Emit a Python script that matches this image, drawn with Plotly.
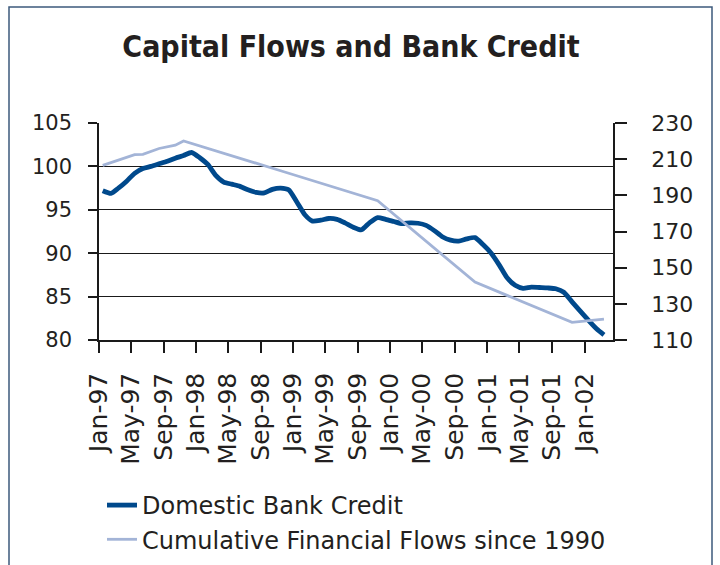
import pandas as pd
import plotly.graph_objects as go

# Monthly observations, Jan-1997 .. Mar-2002
months = pd.period_range("1997-01", "2002-03", freq="M")
bank_credit = [
    97.2, 96.9, 97.5, 98.3, 99.2, 99.75, 100.0, 100.3, 100.6, 100.95, 101.25, 101.6,
    101.0, 100.2, 99.0, 98.2, 97.95, 97.7, 97.3, 97.0, 96.95, 97.35, 97.5, 97.3,
    95.9, 94.4, 93.7, 93.8, 94.0, 93.9, 93.5, 93.0, 92.7, 93.5, 94.1, 93.9,
    93.65, 93.4, 93.5, 93.45, 93.2, 92.6, 91.9, 91.5, 91.4, 91.65, 91.8, 91.0,
    90.0, 88.6, 87.2, 86.3, 85.95, 86.1, 86.05, 86.0, 85.9, 85.5, 84.4, 83.35,
    82.3, 81.3, 80.6,
]

# Cumulative financial flows (right axis), observed months
flow_months = ["1997-01", "1997-05", "1997-06", "1997-08", "1997-10", "1997-11",
               "1998-11", "1999-11", "2000-11", "2001-11", "2002-03"]
flow_values = [206.6, 212.5, 212.7, 215.9, 217.7, 220.1,
               203.6, 187.0, 142.0, 119.8, 121.6]

# place each monthly value in the middle of its month slot
credit_x = months.to_timestamp() + pd.Timedelta(days=14)
flow_x = pd.PeriodIndex(flow_months, freq="M").to_timestamp() + pd.Timedelta(days=14)

DARK = "#00498c"
LIGHT = "#a3b4d7"
TEXT = "#231f20"
AXIS = "#1a1a1a"

fig = go.Figure()
fig.add_trace(go.Scatter(
    x=credit_x, y=bank_credit, name="Domestic Bank Credit",
    mode="lines", line=dict(color=DARK, width=4.8, shape="spline", smoothing=0.6),
    yaxis="y",
))
fig.add_trace(go.Scatter(
    x=flow_x, y=flow_values, name="Cumulative Financial Flows since 1990",
    mode="lines", line=dict(color=LIGHT, width=2.8),
    yaxis="y2",
))

L, R, T, B = 99, 107, 123, 225
W, H = 720, 565
pw, ph = W - L - R, H - T - B

def px_x(px):
    return (px - L) / pw

def px_y(py):
    return (H - B - py) / ph

fig.update_layout(
    width=W, height=H,
    margin=dict(l=L, r=R, t=T, b=B, autoexpand=False),
    paper_bgcolor="white", plot_bgcolor="white",
    title=dict(
        text="Capital Flows and Bank Credit",
        font=dict(family="DejaVu Sans Condensed", size=30, color=TEXT, weight="bold"),
        x=px_x(351), xanchor="center", xref="paper",
        y=1 - 46 / H, yanchor="middle", yref="container",
    ),
    xaxis=dict(
        type="date",
        range=["1997-01-01", "2002-04-18"],
        tick0="1997-01-01", dtick="M4", tickformat="%b-%y",
        tickangle=-90,
        ticks="outside", ticklen=11, tickwidth=1.5, tickcolor=AXIS,
        ticklabelstandoff=10,
        showline=True, linecolor=AXIS, linewidth=1.5,
        showgrid=False, zeroline=False,
        tickfont=dict(family="DejaVu Sans", size=25, color=TEXT),
    ),
    yaxis=dict(
        range=[80, 105], dtick=5, tick0=80,
        ticks="outside", ticklen=9, tickwidth=1.5, tickcolor=AXIS,
        ticklabelstandoff=12,
        showline=True, linecolor=AXIS, linewidth=1.5,
        showgrid=True, gridcolor=AXIS, gridwidth=1.4,
        zeroline=False,
        tickfont=dict(family="DejaVu Sans", size=21, color=TEXT),
    ),
    yaxis2=dict(
        range=[110, 230], dtick=20, tick0=110,
        overlaying="y", side="right",
        ticks="outside", ticklen=12, tickwidth=1.5, tickcolor=AXIS,
        ticklabelstandoff=20,
        showline=True, linecolor=AXIS, linewidth=1.5,
        showgrid=False, zeroline=False,
        tickfont=dict(family="DejaVu Sans", size=22, color=TEXT),
    ),
    showlegend=True,
    legend=dict(
        x=px_x(102), xanchor="left", y=px_y(483), yanchor="top",
        font=dict(family="DejaVu Sans", size=24, color=TEXT),
        bgcolor="rgba(0,0,0,0)", borderwidth=0,
        tracegroupgap=0,
    ),
)

# outer frame around the whole chart
fig.add_shape(
    type="rect", xref="paper", yref="paper", layer="below",
    x0=px_x(9), x1=px_x(712), y0=px_y(600), y1=px_y(7),
    line=dict(color="#3c5a7c", width=1.5), fillcolor="rgba(0,0,0,0)",
)

fig.write_html("out.html")
